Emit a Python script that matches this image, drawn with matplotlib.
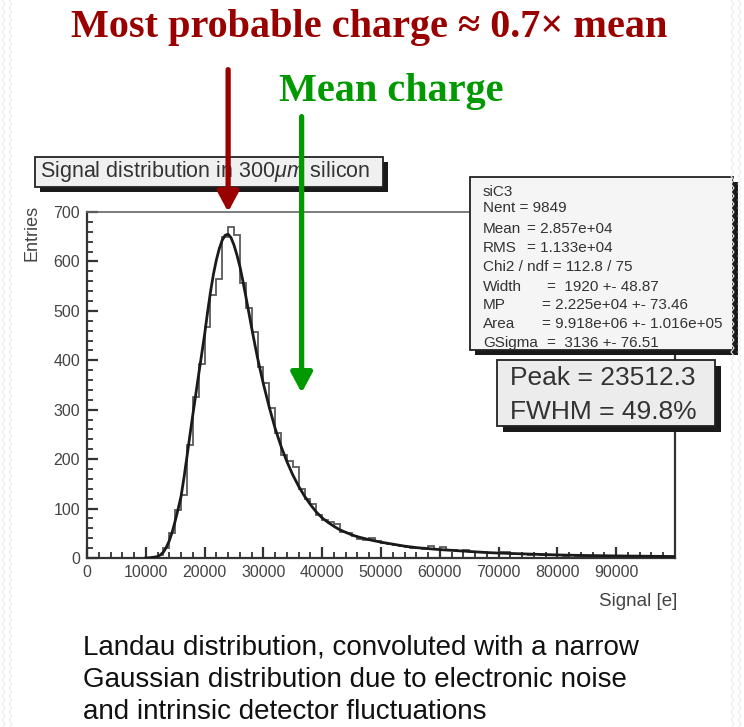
import matplotlib
matplotlib.use('Agg')
import matplotlib.pyplot as plt
from matplotlib.patches import Rectangle
from matplotlib.lines import Line2D
import numpy as np

plt.rcParams['font.family'] = ['Liberation Sans', 'DejaVu Sans']
plt.rcParams['mathtext.fontset'] = 'custom'
plt.rcParams['mathtext.rm'] = 'Liberation Sans'
plt.rcParams['mathtext.it'] = 'Liberation Sans:italic'

# histogram: 100 bins of 1000 e from 0 to 100000
bin_edges = np.arange(0, 100001, 1000)
counts = [0, 0, 0, 0, 0, 0, 0, 0, 0, 0,
          1, 2, 7, 20, 51, 97, 128, 228, 325, 392,
          468, 532, 565, 650, 669, 654, 556, 506, 458, 387,
          354, 304, 253, 209, 196, 185, 140, 120, 110, 88,
          76, 72, 68, 52, 50, 45, 38, 36, 40, 35,
          30, 28, 27, 24, 22, 20, 21, 19, 24, 18,
          23, 17, 16, 15, 16, 13, 12, 12, 11, 10,
          13, 12, 9, 8, 9, 7, 8, 7, 6, 7,
          6, 5, 6, 5, 5, 4, 5, 4, 4, 3,
          4, 3, 3, 3, 2, 3, 2, 2, 2, 2]

# Landau (x) Gauss fit curve (x in thousands of e)
fit_x = [10, 10.5, 11, 11.5, 12, 12.5, 13, 13.5, 14, 14.5, 15, 15.5,
         16, 16.5, 17, 17.5, 18, 18.5, 19, 19.5, 20, 20.5, 21, 21.5,
         22, 22.5, 23, 23.5, 24, 24.5, 25, 25.5, 26, 26.5, 27, 27.5,
         28, 28.5, 29, 30, 31, 32, 33, 34, 35, 36, 37, 38, 39, 40,
         41, 42, 43, 44, 45, 46, 47, 48, 50, 52, 54, 56, 58, 60,
         62, 64, 66, 68, 70, 75, 80, 85, 90, 95, 100]
fit_y = [0, 0.3, 1, 1.8, 3, 6.5, 12, 22, 35, 53, 75, 99,
         125, 163, 205, 248, 290, 331, 372, 412, 452, 497, 538, 574,
         603, 626, 643, 653, 655, 648, 633, 613, 590, 561, 530, 498,
         466, 435, 405, 352, 305, 262, 226, 195, 168, 145, 125, 108, 93, 81,
         72, 64, 57, 52, 47, 43, 40, 37, 32, 28, 24, 21, 19, 17,
         15.5, 14, 12.5, 11, 10, 8, 6.2, 5, 4.2, 3.6, 3]

xtick_vals = [0, 10000, 20000, 30000, 40000, 50000, 60000, 70000, 80000, 90000]
ytick_vals = [0, 100, 200, 300, 400, 500, 600, 700]

stats_labels = ['siC3', 'Nent = 9849', 'Mean', 'RMS', 'Chi2 / ndf = 112.8 / 75',
                'Width', 'MP', 'Area', 'GSigma']
stats_values = ['', '', '= 2.857e+04', '= 1.133e+04', '',
                '=  1920 +- 48.87', '= 2.225e+04 +- 73.46',
                '= 9.918e+06 +- 1.016e+05', '=  3136 +- 76.51']

W, H = 744, 727
fig = plt.figure(figsize=(7.44, 7.27), dpi=100)
fig.patch.set_facecolor('white')


def fx(x):
    return x / W


def fy(y):
    return 1 - y / H


ax = fig.add_axes([fx(87), fy(558), fx(675) - fx(87), fy(212) - fy(558)])
ax.stairs(counts, bin_edges, color='#5a5a5a', lw=1.3, zorder=2)
ax.plot(np.array(fit_x) * 1000, fit_y, color='#1a1a1a', lw=2, zorder=3)
ax.set_xlim(0, 100000)
ax.set_ylim(0, 700)
ax.set_xticks(xtick_vals)
ax.set_xticklabels([str(v) for v in xtick_vals])
ax.set_xticks(np.arange(0, 100001, 2000), minor=True)
ax.set_yticks(ytick_vals)
ax.set_yticklabels([str(v) for v in ytick_vals])
ax.set_yticks(np.arange(0, 701, 20), minor=True)
ax.tick_params(which='major', direction='in', length=8, width=1.6, color='#333333',
               labelsize=11.5, labelcolor='#444444', pad=5)
ax.tick_params(which='minor', direction='in', length=4, width=1.3, color='#333333')
for s in ax.spines.values():
    s.set_color('#333333')
    s.set_linewidth(1.6)
ax.spines['top'].set_color('#666666')
ax.spines['top'].set_linewidth(1.2)

fig.text(fx(32), fy(205), 'Entries', rotation=90, ha='center', va='top',
         fontsize=13, color='#444444')
fig.text(fx(677), fy(602), 'Signal [e]', ha='right', va='center',
         fontsize=13.5, color='#444444')


def root_box(x0, y0, x1, y1, off, face, z):
    ax.add_patch(Rectangle((fx(x0 + off), fy(y1 + off)), fx(x1) - fx(x0), fy(y0) - fy(y1),
                           transform=fig.transFigure, clip_on=False,
                           facecolor='#1a1a1a', edgecolor='none', zorder=z))
    ax.add_patch(Rectangle((fx(x0), fy(y1)), fx(x1) - fx(x0), fy(y0) - fy(y1),
                           transform=fig.transFigure, clip_on=False,
                           facecolor=face, edgecolor='#222222', lw=1.3, zorder=z + 0.1))


# title box
root_box(35, 157, 383, 187, 5, '#f0f0f0', 5)
ax.text(fx(40), fy(172), r'Signal distribution in 300$\mathit{\mu m}$ silicon',
        transform=fig.transFigure, ha='left', va='center', fontsize=15.5,
        color='#333333', zorder=6)

# stats box
root_box(470, 177, 733, 350, 5, '#f5f5f5', 5)
stat_y = [192, 208, 229, 248, 267, 287, 305, 324, 343]
stat_vx = [0, 0, 527, 527, 0, 547, 542, 542, 547]
for lab, val, yy, vx in zip(stats_labels, stats_values, stat_y, stat_vx):
    ax.text(fx(483), fy(yy), lab, transform=fig.transFigure, ha='left', va='center',
            fontsize=11, color='#333333', zorder=6)
    if val:
        ax.text(fx(vx), fy(yy), val, transform=fig.transFigure, ha='left', va='center',
                fontsize=11, color='#333333', zorder=6)

# peak / fwhm box
root_box(497, 360, 715, 426, 6, '#ececec', 5)
ax.text(fx(510), fy(378), 'Peak = 23512.3', transform=fig.transFigure, ha='left',
        va='center', fontsize=19, color='#333333', zorder=6)
ax.text(fx(510), fy(412), 'FWHM = 49.8%', transform=fig.transFigure, ha='left',
        va='center', fontsize=19, color='#333333', zorder=6)

# arrows
red = '#990000'
green = '#009900'
ax.annotate('', xy=(24000, 700), xytext=(24000, 988), xycoords='data',
            arrowprops=dict(arrowstyle='-|>,head_length=0.6,head_width=0.32',
                            color=red, lw=3.8, shrinkA=0, shrinkB=0, mutation_scale=20),
            annotation_clip=False, zorder=10)
ax.annotate('', xy=(36500, 334), xytext=(36500, 893), xycoords='data',
            arrowprops=dict(arrowstyle='-|>,head_length=0.6,head_width=0.32',
                            color=green, lw=3.8, shrinkA=0, shrinkB=0, mutation_scale=20),
            annotation_clip=False, zorder=10)

serif = ['Liberation Serif', 'DejaVu Serif']
fig.text(fx(369), fy(28), 'Most probable charge \u2248 0.7\u00d7 mean', ha='center',
         va='center', fontsize=29, fontweight='bold', family=serif, color=red)
fig.text(fx(391), fy(92), 'Mean charge', ha='center', va='center',
         fontsize=29, fontweight='bold', family=serif, color=green)

fig.text(fx(83), fy(647), 'Landau distribution, convoluted with a narrow',
         ha='left', va='center', fontsize=20, color='#111111')
fig.text(fx(83), fy(680), 'Gaussian distribution due to electronic noise',
         ha='left', va='center', fontsize=20, color='#111111')
fig.text(fx(83), fy(712), 'and intrinsic detector fluctuations',
         ha='left', va='center', fontsize=20, color='#111111')

# faint slide border pattern on both sides
for x0 in [2, 9, 731, 738]:
    ys = np.arange(0, H + 8, 4)
    xs = x0 + 3 * (np.arange(len(ys)) % 2)
    fig.add_artist(Line2D(fx(xs), fy(ys), transform=fig.transFigure,
                          color='#ececec', lw=0.8))

fig.savefig('out.png', dpi=100)
